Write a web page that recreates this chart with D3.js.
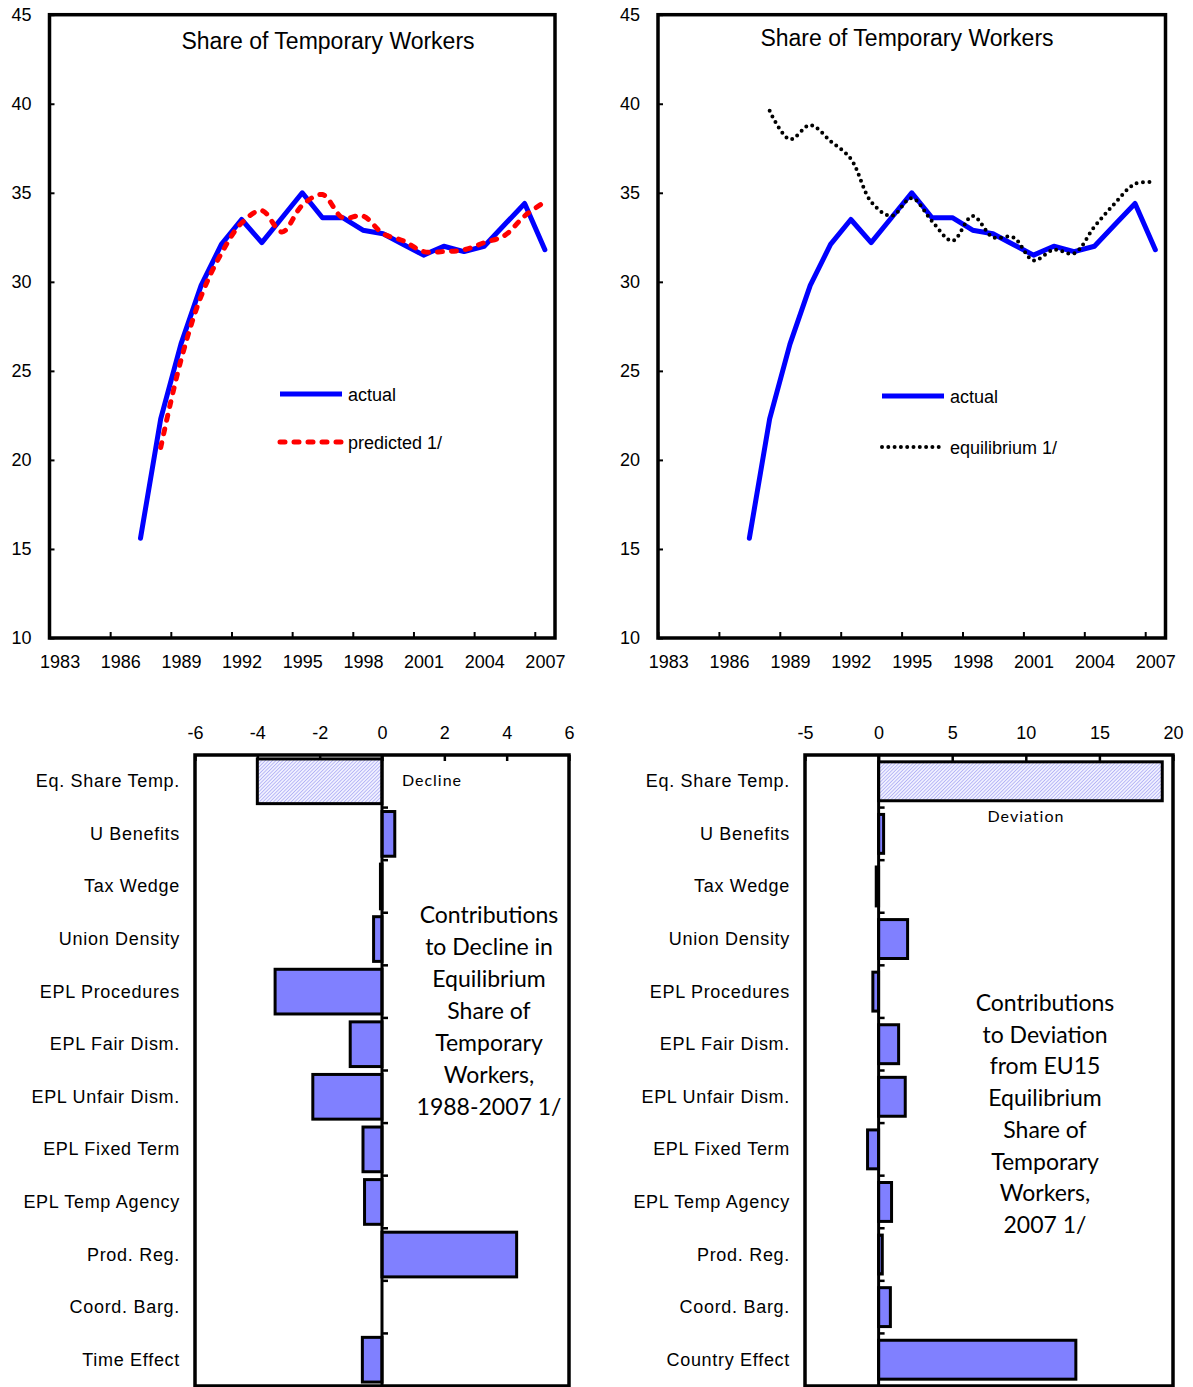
<!DOCTYPE html>
<html>
<head>
<meta charset="utf-8">
<script src="https://cdn.jsdelivr.net/npm/d3@7"></script>
<style>
  body { margin: 0; background: #fff; }
  svg { display: block; }
  .tick text { font-family: "Liberation Sans", Arial, sans-serif; font-size: 18px; fill: #000; }
</style>
</head>
<body>
<svg id="chart"></svg>
<script>
// years on the category axis
var years = d3.range(1983, 2008)
var yearLabels = [1983, 1986, 1989, 1992, 1995, 1998, 2001, 2004, 2007]
var shareTicks = [10, 15, 20, 25, 30, 35, 40, 45]

// share of temporary workers (%), one value per year, null = no data
var actual = [null, null, null, null, 15.6, 22.3, 26.5, 29.8, 32.1, 33.5, 32.2, 33.6, 35.0, 33.6, 33.6, 32.9, 32.7, 32.1, 31.5, 32.0, 31.7, 32.0, 33.2, 34.4, 31.8]
var predicted = [null, null, null, null, null, 20.7, 25.6, 29.2, 31.6, 33.3, 34.0, 32.8, 34.3, 34.9, 33.6, 33.7, 32.7, 32.3, 31.7, 31.7, 31.8, 32.2, 32.6, 33.7, 34.5]
var equilibrium = [null, null, null, null, null, 39.6, 38.0, 38.8, 37.9, 36.9, 34.5, 33.7, 34.7, 33.4, 32.3, 33.7, 32.5, 32.5, 31.2, 31.8, 31.6, 33.1, 34.4, 35.5, 35.6]

// contributions (bar charts)
var declineCats = ["Eq. Share Temp.", "U Benefits", "Tax Wedge", "Union Density", "EPL Procedures", "EPL Fair Dism.", "EPL Unfair Dism.", "EPL Fixed Term", "EPL Temp Agency", "Prod. Reg.", "Coord. Barg.", "Time Effect"]
var declineVals = [-4.0, 0.41, -0.05, -0.27, -3.43, -1.02, -2.22, -0.61, -0.56, 4.32, 0, -0.63]
var declineTicks = [-6, -4, -2, 0, 2, 4, 6]

var deviationCats = ["Eq. Share Temp.", "U Benefits", "Tax Wedge", "Union Density", "EPL Procedures", "EPL Fair Dism.", "EPL Unfair Dism.", "EPL Fixed Term", "EPL Temp Agency", "Prod. Reg.", "Coord. Barg.", "Country Effect"]
var deviationVals = [19.27, 0.34, -0.16, 1.97, -0.39, 1.36, 1.81, -0.75, 0.88, 0.25, 0.8, 13.4]
var deviationTicks = [-5, 0, 5, 10, 15, 20]

var svg = d3.select('#chart')
    .attr('width', 1193)
    .attr('height', 1387)

svg.append('rect').attr('width', 1193).attr('height', 1387).attr('fill', '#fff')

// hatch for the first bar
var defs = svg.append('defs')
var pat = defs.append('pattern')
    .attr('id', 'hatch')
    .attr('patternUnits', 'userSpaceOnUse')
    .attr('width', 2.5)
    .attr('height', 2.5)
    .attr('patternTransform', 'rotate(45)')
pat.append('rect').attr('width', 2.5).attr('height', 2.5).attr('fill', '#f0f0ff')
pat.append('line').attr('x1', 0).attr('y1', 0).attr('x2', 0).attr('y2', 2.5)
    .attr('stroke', '#9a9af2').attr('stroke-width', 1.2)

var labelFont = '"Liberation Sans", Arial, sans-serif'

function lineChart(cfg) {
    var x = d3.scaleLinear().domain([1982.5, 2007.5]).range([cfg.left, cfg.right])
    var y = d3.scaleLinear().domain([10, 45]).range([cfg.bottom, cfg.top])
    var g = svg.append('g')

    // y axis, ticks inside
    g.append('g')
        .attr('transform', 'translate(' + cfg.left + ',0)')
        .call(d3.axisLeft(y).tickValues(shareTicks).tickSize(-5).tickPadding(18))
        .call(a => a.select('.domain').remove())
        .call(a => a.selectAll('line').attr('stroke-width', 2))

    // x labels at category centres
    g.append('g')
        .attr('transform', 'translate(0,' + cfg.bottom + ')')
        .call(d3.axisBottom(x).tickValues(yearLabels).tickFormat(d3.format('d')).tickSize(0).tickPadding(17))
        .call(a => a.select('.domain').remove())

    // x tick marks between categories, every third
    g.append('g')
        .attr('transform', 'translate(0,' + cfg.bottom + ')')
        .call(d3.axisBottom(x).tickValues(yearLabels.map(d => d - 0.5)).tickSize(-6).tickFormat(''))
        .call(a => a.select('.domain').remove())
        .call(a => a.selectAll('line').attr('stroke-width', 2))

    g.append('rect')
        .attr('x', cfg.left).attr('y', cfg.top)
        .attr('width', cfg.right - cfg.left).attr('height', cfg.bottom - cfg.top)
        .attr('fill', 'none').attr('stroke', '#000').attr('stroke-width', 3.5)

    g.append('text')
        .attr('x', cfg.titleX).attr('y', cfg.titleY)
        .attr('text-anchor', 'middle')
        .attr('font-family', labelFont).attr('font-size', 23)
        .text('Share of Temporary Workers')

    cfg.series.forEach(function (s) {
        var pts = years.map((yr, i) => ({ yr: yr, v: s.values[i] })).filter(d => d.v != null)
        var line = d3.line().x(d => x(d.yr)).y(d => y(d.v))
        if (s.smooth) line.curve(d3.curveCatmullRom.alpha(0.5))
        g.append('path')
            .datum(pts)
            .attr('d', line)
            .attr('fill', 'none')
            .attr('stroke', s.color)
            .attr('stroke-width', s.width)
            .attr('stroke-dasharray', s.dash)
            .attr('stroke-linecap', 'round')
            .attr('stroke-linejoin', 'round')

        g.append('line')
            .attr('x1', s.legX).attr('x2', s.legX + 62)
            .attr('y1', s.legY).attr('y2', s.legY)
            .attr('stroke', s.color)
            .attr('stroke-width', s.width)
            .attr('stroke-dasharray', s.dash)
            .attr('stroke-linecap', s.dash ? 'round' : 'butt')
        g.append('text')
            .attr('x', s.legX + 68).attr('y', s.legY + 7)
            .attr('font-family', labelFont).attr('font-size', 18)
            .text(s.name)
    })
}

lineChart({
    left: 49.5, right: 555, top: 14.7, bottom: 638,
    titleX: 328, titleY: 49,
    series: [
        { name: 'actual', values: actual, color: '#0000ff', width: 5, dash: null, smooth: false, legX: 280, legY: 394 },
        { name: 'predicted 1/', values: predicted, color: '#ff0000', width: 5, dash: '5,9', smooth: true, legX: 280, legY: 442 }
    ]
})

lineChart({
    left: 658, right: 1165.5, top: 14.7, bottom: 638,
    titleX: 907, titleY: 46,
    series: [
        { name: 'actual', values: actual, color: '#0000ff', width: 5, dash: null, smooth: false, legX: 882, legY: 396 },
        { name: 'equilibrium 1/', values: equilibrium, color: '#000', width: 4, dash: '0,6.3', smooth: true, legX: 882, legY: 447 }
    ]
})

function barChart(cfg) {
    var x = d3.scaleLinear().domain(cfg.domain).range([cfg.left, cfg.right])
    var y = d3.scaleBand().domain(cfg.cats).range([cfg.top, cfg.bottom]).paddingInner(cfg.pad).paddingOuter(cfg.pad / 2)
    var yb = d3.scaleBand().domain(cfg.cats).range([cfg.top, cfg.bottom])
    var g = svg.append('g')

    g.append('g')
        .attr('transform', 'translate(0,' + cfg.top + ')')
        .call(d3.axisTop(x).tickValues(cfg.ticks).tickFormat(d => String(d)).tickSize(-6).tickPadding(16))
        .call(a => a.select('.domain').remove())
        .call(a => a.selectAll('line').attr('stroke-width', 2.5))

    g.selectAll('.bar')
        .data(cfg.vals)
        .join('rect')
        .attr('class', 'bar')
        .attr('x', d => x(Math.min(0, d)))
        .attr('width', d => Math.abs(x(d) - x(0)))
        .attr('y', (d, i) => y(cfg.cats[i]))
        .attr('height', y.bandwidth())
        .attr('fill', (d, i) => i === 0 ? 'url(#hatch)' : '#8080ff')
        .attr('stroke', '#000')
        .attr('stroke-width', 3)

    // category axis along zero
    g.append('line')
        .attr('x1', x(0)).attr('x2', x(0))
        .attr('y1', cfg.top).attr('y2', cfg.bottom)
        .attr('stroke', '#000').attr('stroke-width', 3)
    g.selectAll('.cattick')
        .data(cfg.cats.slice(1))
        .join('line')
        .attr('class', 'cattick')
        .attr('x1', x(0)).attr('x2', x(0) + 6)
        .attr('y1', d => yb(d)).attr('y2', d => yb(d))
        .attr('stroke', '#000').attr('stroke-width', 2.5)

    g.append('rect')
        .attr('x', cfg.left).attr('y', cfg.top)
        .attr('width', cfg.right - cfg.left).attr('height', cfg.bottom - cfg.top)
        .attr('fill', 'none').attr('stroke', '#000').attr('stroke-width', 3.5)

    g.selectAll('.cat')
        .data(cfg.cats)
        .join('text')
        .attr('class', 'cat')
        .attr('x', cfg.labelX)
        .attr('y', d => yb(d) + yb.bandwidth() / 2 + 6)
        .attr('text-anchor', 'end')
        .attr('font-family', labelFont).attr('font-size', 18)
        .attr('letter-spacing', 0.7)
        .text(d => d)

    g.append('text')
        .attr('x', cfg.tagX).attr('y', cfg.tagY)
        .attr('text-anchor', 'middle')
        .attr('font-family', 'Lato, sans-serif').attr('font-size', 16)
        .attr('letter-spacing', 1)
        .text(cfg.tag)

    var note = g.append('text')
        .attr('text-anchor', 'middle')
        .attr('font-family', 'Lato, sans-serif').attr('font-size', 23)
    cfg.note.forEach(function (t, i) {
        note.append('tspan')
            .attr('x', cfg.noteX)
            .attr('y', cfg.noteY + i * cfg.noteStep)
            .text(t)
    })
}

barChart({
    left: 195, right: 569, top: 755, bottom: 1386,
    domain: [-6, 6], ticks: declineTicks,
    cats: declineCats, vals: declineVals, pad: 0.15,
    labelX: 180,
    tag: 'Decline', tagX: 432, tagY: 786,
    note: ['Contributions', 'to Decline in', 'Equilibrium', 'Share of', 'Temporary', 'Workers,', '1988-2007 1/'],
    noteX: 489, noteY: 923, noteStep: 32
})

barChart({
    left: 805, right: 1173, top: 755, bottom: 1386,
    domain: [-5, 20], ticks: deviationTicks,
    cats: deviationCats, vals: deviationVals, pad: 0.26,
    labelX: 790,
    tag: 'Deviation', tagX: 1026, tagY: 822,
    note: ['Contributions', 'to Deviation', 'from EU15', 'Equilibrium', 'Share of', 'Temporary', 'Workers,', '2007 1/'],
    noteX: 1045, noteY: 1011, noteStep: 31.7
})
</script>
</body>
</html>
